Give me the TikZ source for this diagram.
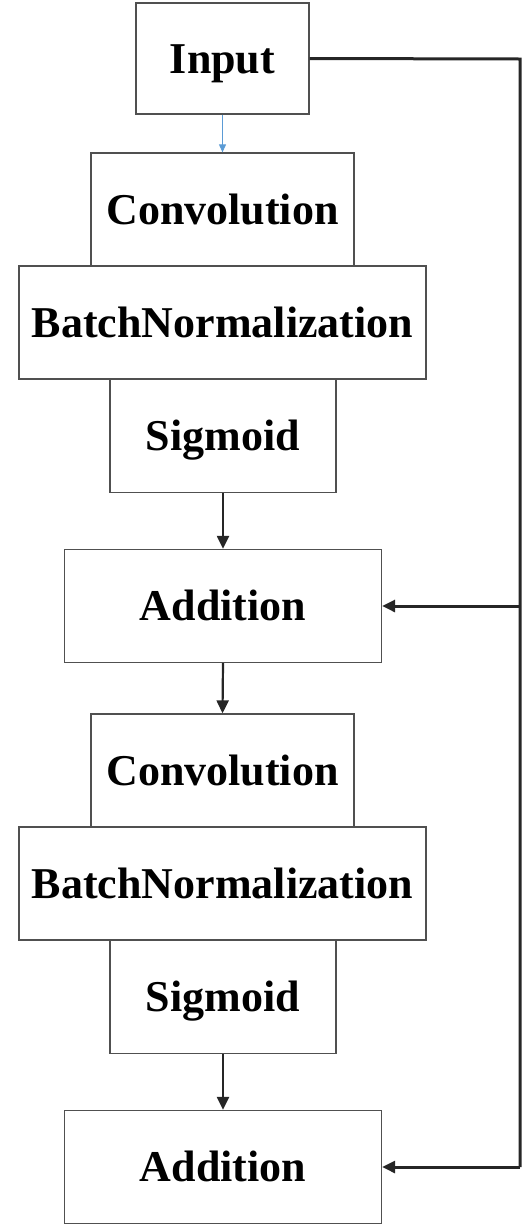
\documentclass[tikz,border=0pt]{standalone}
\usepackage{fontspec}
\setmainfont{Liberation Serif}
\usetikzlibrary{arrows.meta}
\definecolor{boxgray}{HTML}{505050}
\definecolor{linedark}{HTML}{262626}
\definecolor{arrowblue}{HTML}{5B9BD5}
\tikzset{
  x=1pt, y=1pt,
  blockbox/.style={draw=boxgray, line width=1.3pt, fill=white, rectangle, inner sep=0pt,
    minimum height=113pt, text height=29pt, text depth=0pt,
    font=\fontsize{44}{44}\selectfont\bfseries},
  bigtip/.tip={Triangle[length=13pt,width=12pt]},
  flowarrow/.style={draw=linedark, line width=2.2pt, -bigtip},
  skipline/.style={draw=linedark, line width=3pt, line join=miter},
}
\begin{document}
\begin{tikzpicture}
\useasboundingbox (0,0) rectangle (522,-1232);
\node[blockbox, minimum width=173pt, minimum height=111pt] (in) at (222.5,-58.5) {Input};
\node[blockbox, minimum width=263pt] (c1) at (222.5,-209.5) {Convolution};
\node[blockbox, minimum width=407pt] (b1) at (222.5,-322.5) {BatchNormalization};
\node[blockbox, minimum width=226pt] (s1) at (223,-436) {Sigmoid};
\node[blockbox, minimum width=317pt] (a1) at (223,-606) {Addition};
\node[blockbox, minimum width=263pt] (c2) at (222.5,-770.5) {Convolution};
\node[blockbox, minimum width=407pt] (b2) at (222.5,-883.5) {BatchNormalization};
\node[blockbox, minimum width=226pt] (s2) at (223,-997) {Sigmoid};
\node[blockbox, minimum width=317pt] (a2) at (223,-1167) {Addition};
\coordinate (rt) at (520,-59);
\coordinate (rb) at (520,-1167);
\draw[draw=arrowblue, line width=1pt, -{Triangle[length=8pt,width=7pt]}] (in.south) -- (c1.north);
\draw[flowarrow] (s1.south) -- (a1.north);
\draw[flowarrow] (a1.south) -- (c2.north);
\draw[flowarrow] (s2.south) -- (a2.north);
\draw[skipline] (in.east) -- (rt) -- (rb);
\draw[skipline, -bigtip] (rt |- a1.east) -- (a1.east);
\draw[skipline, -bigtip] (rb) -- (a2.east);
\end{tikzpicture}
\end{document}
